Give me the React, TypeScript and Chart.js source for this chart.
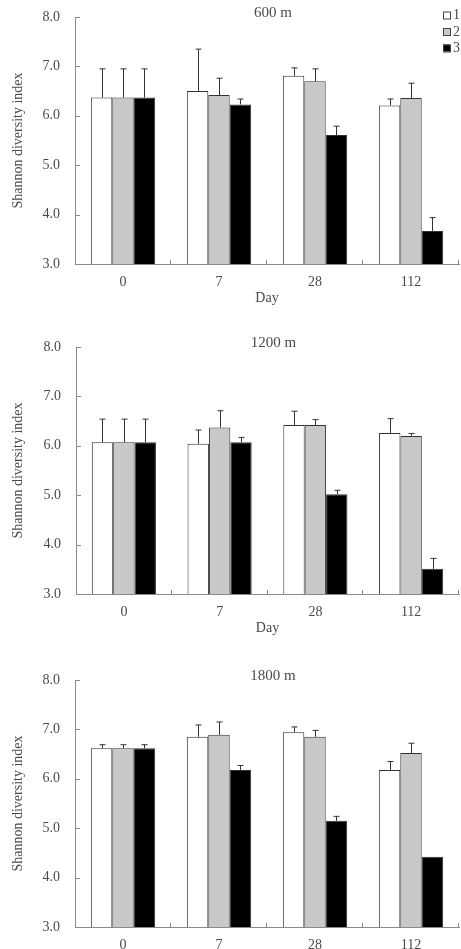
import React, { useEffect, useRef } from "react";
import { Chart, registerables } from "chart.js";

Chart.register(...registerables);

// Sampling days (x categories)
const days = ["0", "7", "28", "112"];
// Treatment labels for the three series
const seriesLabels = ["1", "2", "3"];
const yTicks = [3, 4, 5, 6, 7, 8];

// 600 m
const mean600s1 = [6.37, 6.5, 6.81, 6.21];
const sd600s1 = [0.58, 0.85, 0.16, 0.13];
const mean600s2 = [6.37, 6.42, 6.7, 6.36];
const sd600s2 = [0.58, 0.34, 0.25, 0.3];
const mean600s3 = [6.37, 6.23, 5.61, 3.67];
const sd600s3 = [0.58, 0.11, 0.18, 0.27];

// 1200 m
const mean1200s1 = [6.07, 6.04, 6.42, 6.26];
const sd1200s1 = [0.47, 0.28, 0.28, 0.29];
const mean1200s2 = [6.07, 6.37, 6.42, 6.2];
const sd1200s2 = [0.47, 0.34, 0.11, 0.05];
const mean1200s3 = [6.07, 6.07, 5.02, 3.51];
const sd1200s3 = [0.47, 0.1, 0.08, 0.21];

// 1800 m
const mean1800s1 = [6.62, 6.85, 6.94, 6.18];
const sd1800s1 = [0.07, 0.24, 0.11, 0.17];
const mean1800s2 = [6.62, 6.89, 6.85, 6.52];
const sd1800s2 = [0.07, 0.26, 0.13, 0.2];
const mean1800s3 = [6.62, 6.18, 5.15, 4.42];
const sd1800s3 = [0.07, 0.09, 0.09, 0];

const FONT = "'Liberation Serif', 'DejaVu Serif', serif";
const TEXT = "#4a4a4a";
const AXIS = "#8a8a8a";
const fills = ["#ffffff", "#c8c8c8", "#000000"];

type Panel = {
  title: string;
  means: number[][];
  sds: number[][];
  top: number;
  axisLeft: number;
  legend: boolean;
};

const panels: Panel[] = [
  { title: "600 m", means: [mean600s1, mean600s2, mean600s3], sds: [sd600s1, sd600s2, sd600s3], top: 0, axisLeft: 75, legend: true },
  { title: "1200 m", means: [mean1200s1, mean1200s2, mean1200s3], sds: [sd1200s1, sd1200s2, sd1200s3], top: 330, axisLeft: 76, legend: false },
  { title: "1800 m", means: [mean1800s1, mean1800s2, mean1800s3], sds: [sd1800s1, sd1800s2, sd1800s3], top: 663, axisLeft: 75, legend: false },
];

const CANVAS_W = 461;
const CANVAS_H = 310;

function BarPanel({ panel }: { panel: Panel }) {
  const ref = useRef<HTMLCanvasElement | null>(null);

  useEffect(() => {
    const canvas = ref.current;
    if (!canvas) return;

    // Upward-only error bars with small caps
    const errorBars = {
      id: "errorBars",
      afterDatasetsDraw(chart: any) {
        const { ctx } = chart;
        const yScale = chart.scales.y;
        ctx.save();
        ctx.strokeStyle = "#333";
        ctx.lineWidth = 1;
        chart.data.datasets.forEach((ds: any, i: number) => {
          const meta = chart.getDatasetMeta(i);
          meta.data.forEach((bar: any, j: number) => {
            const sd = ds.sd[j];
            if (!sd) return;
            const x = Math.round(bar.x) + 0.5;
            const yTop = yScale.getPixelForValue(ds.data[j] + sd);
            ctx.beginPath();
            ctx.moveTo(x, bar.y);
            ctx.lineTo(x, yTop);
            ctx.moveTo(x - 3, yTop);
            ctx.lineTo(x + 3, yTop);
            ctx.stroke();
          });
        });
        ctx.restore();
      },
    };

    // Inward tick marks, panel heading and key
    const decorations = {
      id: "decorations",
      afterDraw(chart: any) {
        const { ctx, chartArea } = chart;
        const yScale = chart.scales.y;
        const xScale = chart.scales.x;
        ctx.save();
        ctx.strokeStyle = AXIS;
        ctx.lineWidth = 1;
        yScale.ticks.forEach((t: any) => {
          const y = Math.round(yScale.getPixelForValue(t.value)) + 0.5;
          ctx.beginPath();
          ctx.moveTo(chartArea.left, y);
          ctx.lineTo(chartArea.left + 5, y);
          ctx.stroke();
        });
        const n = days.length;
        const step = (chartArea.right - chartArea.left) / n;
        for (let i = 0; i < n; i++) {
          const x = Math.round(xScale.getPixelForValue(i) + step / 2) - 0.5;
          ctx.beginPath();
          ctx.moveTo(x, chartArea.bottom);
          ctx.lineTo(x, chartArea.bottom - 4);
          ctx.stroke();
        }

        ctx.fillStyle = TEXT;
        ctx.font = `15px ${FONT}`;
        ctx.textAlign = "center";
        ctx.textBaseline = "middle";
        ctx.fillText(panel.title, (chartArea.left + chartArea.right) / 2 + 6, chartArea.top - 4);

        if (panel.legend) {
          ctx.font = `14px ${FONT}`;
          ctx.textAlign = "left";
          seriesLabels.forEach((label, i) => {
            const bx = chartArea.right - 16;
            const by = chartArea.top - 5.5 + i * 16.5;
            ctx.fillStyle = fills[i];
            ctx.fillRect(bx, by, 7, 7);
            ctx.strokeStyle = "#444";
            ctx.strokeRect(bx + 0.5, by + 0.5, 7, 7);
            ctx.fillStyle = TEXT;
            ctx.fillText(label, bx + 10, by + 4);
          });
        }
        ctx.restore();
      },
    };

    const chart = new Chart(canvas, {
      type: "bar",
      data: {
        labels: days,
        datasets: panel.means.map((m, i) => ({
          label: seriesLabels[i],
          data: m,
          sd: panel.sds[i],
          backgroundColor: fills[i],
          borderColor: "#333",
          borderWidth: 1,
          barPercentage: 1,
          categoryPercentage: 0.67,
        })) as any,
      },
      options: {
        responsive: false,
        animation: false,
        layout: { padding: { top: 17, right: 2, left: 0, bottom: 0 } },
        plugins: {
          legend: { display: false },
          tooltip: { enabled: false },
          title: { display: false },
        },
        scales: {
          x: {
            grid: { display: false, drawTicks: false },
            border: { display: true, color: AXIS, width: 1 },
            ticks: { color: TEXT, font: { family: FONT, size: 14 }, padding: 9.6 },
            title: {
              display: true,
              text: "Day",
              color: TEXT,
              font: { family: FONT, size: 14 },
              padding: { top: 0, bottom: 3 },
            },
            afterFit(scale: any) {
              scale.height = 46;
            },
          },
          y: {
            min: 3,
            max: 8,
            afterBuildTicks(scale: any) {
              scale.ticks = yTicks.map((v) => ({ value: v }));
            },
            // invisible outward tick space keeps the labels clear of the axis
            grid: {
              display: true,
              drawOnChartArea: false,
              drawTicks: true,
              tickLength: 15,
              color: "rgba(0,0,0,0)",
            },
            border: { display: true, color: AXIS, width: 1 },
            ticks: {
              color: TEXT,
              font: { family: FONT, size: 14 },
              padding: 0,
              callback: (v: any) => Number(v).toFixed(1),
            },
            title: {
              display: true,
              text: "Shannon diversity index",
              color: TEXT,
              font: { family: FONT, size: 14 },
              padding: { top: 9.6, bottom: 0 },
            },
            afterFit(scale: any) {
              scale.width = panel.axisLeft;
            },
          },
        },
      },
      plugins: [errorBars, decorations],
    });

    return () => chart.destroy();
  }, [panel]);

  return (
    <canvas
      ref={ref}
      width={CANVAS_W}
      height={CANVAS_H}
      style={{ position: "absolute", left: 0, top: panel.top, width: CANVAS_W, height: CANVAS_H }}
    />
  );
}

export default function App() {
  return (
    <div
      style={{
        position: "absolute",
        left: 0,
        top: 0,
        width: 461,
        height: 949,
        overflow: "hidden",
        background: "#fff",
      }}
    >
      {panels.map((p) => (
        <BarPanel key={p.title} panel={p} />
      ))}
    </div>
  );
}
